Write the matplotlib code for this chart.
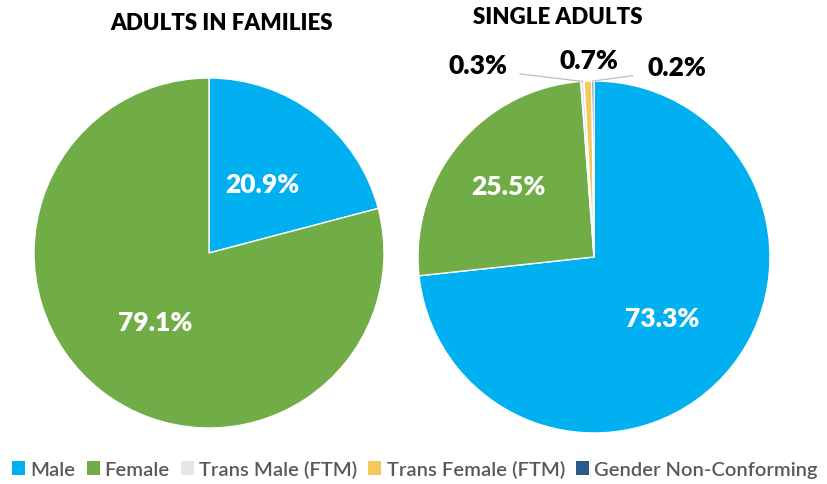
import matplotlib.pyplot as plt
import numpy as np
from matplotlib.patches import Patch

plt.rcParams['font.family'] = ['Lato', 'DejaVu Sans']

categories = ["Male", "Female", "Trans Male (FTM)", "Trans Female (FTM)", "Gender Non-Conforming"]
colors = ["#00B0F0", "#70AD47", "#E7E6E6", "#F5C85E", "#2A5B8C"]

families_values = [20.9, 79.1]
single_values = [73.3, 25.5, 0.3, 0.7, 0.2]

W, H = 828, 485
fig = plt.figure(figsize=(W / 100, H / 100), dpi=100)
LBL = dict(fontsize=19, fontweight='heavy')
TTL = dict(fontsize=16, fontweight='heavy')

def pie_axes(cx, cy, r):
    return fig.add_axes([(cx - r) / W, (H - cy - r) / H, 2 * r / W, 2 * r / H])

# Left pie
ax1 = pie_axes(209, 254, 175)
ax1.pie(families_values, colors=colors[:2], startangle=90, counterclock=False,
        autopct='%.1f%%', pctdistance=0.5,
        wedgeprops=dict(edgecolor='white', linewidth=1.0),
        textprops=dict(color='white', **LBL))
ax1.set_xlim(-1, 1); ax1.set_ylim(-1, 1)
ax1.set_aspect('equal')
fig.text(222 / W, 1 - 23 / H, "ADULTS IN FAMILIES", ha='center', va='center',
         color='black', **TTL)

# Right pie
ax2 = pie_axes(594, 258, 176)
ax2.pie(single_values, colors=colors, startangle=90, counterclock=False,
        wedgeprops=dict(edgecolor='white', linewidth=1.0))
ax2.set_xlim(-1, 1); ax2.set_ylim(-1, 1)
ax2.set_aspect('equal')
fig.text(558 / W, 1 - 17 / H, "SINGLE ADULTS", ha='center', va='center',
         color='black', **TTL)

cum = np.cumsum([0] + single_values)
total = sum(single_values)
big_r = [0.52, 0.63]
for i in range(2):
    mid = (cum[i] + cum[i + 1]) / 2 / total * 360
    ang = np.deg2rad(90 - mid)
    ax2.text(big_r[i] * np.cos(ang), big_r[i] * np.sin(ang), f"{single_values[i]:.1f}%",
             ha='center', va='center', color='white', **LBL)

small_pos = {2: (-0.66, 1.09), 3: (-0.03, 1.12), 4: (0.47, 1.08)}
for i, (tx, ty) in small_pos.items():
    mid = (cum[i] + cum[i + 1]) / 2 / total * 360
    ang = np.deg2rad(90 - mid)
    ax2.text(tx, ty, f"{single_values[i]:.1f}%", ha='center', va='center', color='black',
             clip_on=False, **LBL)
    if i == 2:
        ax2.plot([tx + 0.24, np.cos(ang)], [ty - 0.05, np.sin(ang)],
                 color='#BFBFBF', lw=0.9, clip_on=False)
    elif i == 4:
        ax2.plot([tx - 0.25, np.cos(ang)], [ty - 0.05, np.sin(ang)],
                 color='#BFBFBF', lw=0.9, clip_on=False)

handles = [Patch(facecolor=c, edgecolor='none') for c in colors]
fig.legend(handles, categories, loc='center', bbox_to_anchor=(415 / W, 1 - 470 / H),
           ncol=5, frameon=False, handlelength=0.65, handleheight=0.75,
           handletextpad=0.25, columnspacing=0.55, labelcolor='#595959',
           prop=dict(size=14.5, weight='semibold'))

fig.savefig('out.png', dpi=100)
